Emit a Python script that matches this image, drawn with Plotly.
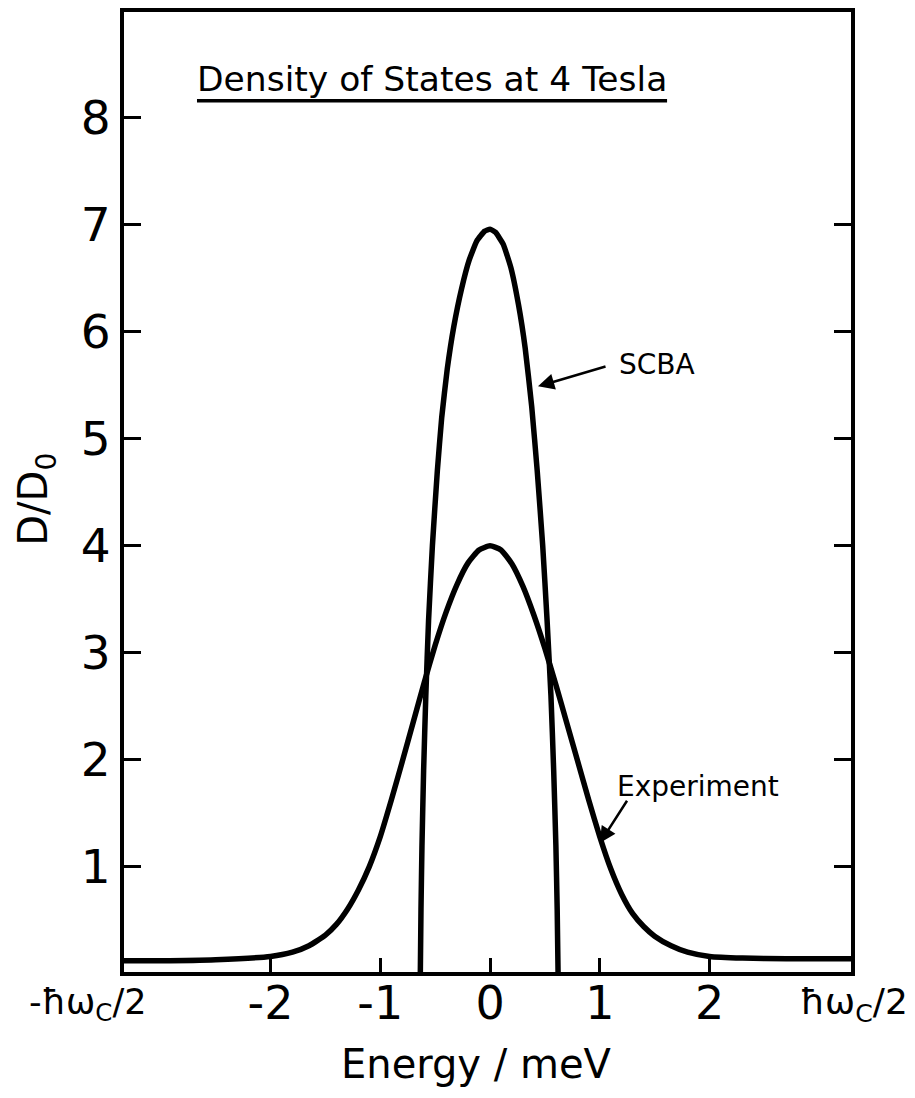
import plotly.graph_objects as go

# ---- data ----
exp_energy = [-3.335, -3.0, -2.5, -2.0, -1.8, -1.65, -1.5, -1.4, -1.3, -1.2, -1.1, -1.0, -0.9, -0.8,
              -0.7, -0.6, -0.5, -0.4, -0.3, -0.2, -0.1, 0.0,
              0.1, 0.2, 0.3, 0.4, 0.5, 0.6, 0.7, 0.8, 0.9, 1.0, 1.1, 1.2, 1.3, 1.4, 1.5,
              1.65, 1.8, 2.0, 2.3, 2.7, 3.289]
exp_dos = [0.12, 0.12, 0.13, 0.16, 0.2, 0.26, 0.36, 0.46, 0.6, 0.78, 1.0, 1.28, 1.62, 1.98,
           2.35, 2.72, 3.07, 3.38, 3.64, 3.84, 3.96, 4.0,
           3.96, 3.83, 3.62, 3.35, 3.04, 2.7, 2.34, 1.98, 1.62, 1.28, 0.98, 0.74, 0.56, 0.44, 0.35,
           0.26, 0.2, 0.16, 0.145, 0.14, 0.14]

scba_energy = [-0.635, -0.629, -0.62, -0.605, -0.585, -0.56, -0.525, -0.48, -0.44, -0.39, -0.33,
               -0.26, -0.19, -0.12, -0.05, 0.0, 0.05, 0.12, 0.19, 0.26, 0.32, 0.38, 0.43,
               0.48, 0.52, 0.555, 0.58, 0.60, 0.612, 0.62]
scba_dos = [0.0, 0.6, 1.2, 1.9, 2.6, 3.3, 4.0, 4.7, 5.2, 5.65, 6.05,
            6.4, 6.67, 6.85, 6.94, 6.96, 6.93, 6.82, 6.6, 6.25, 5.85, 5.3, 4.7,
            4.0, 3.3, 2.6, 1.9, 1.2, 0.6, 0.0]

x_tickvals = [-2, -1, 0, 1, 2]
x_ticktext = ["-2", "-1", "0", "1", "2"]
y_tickvals = [1, 2, 3, 4, 5, 6, 7, 8]
y_ticktext = ["1", "2", "3", "4", "5", "6", "7", "8"]
y_right_tickvals = [1, 2, 3, 4, 5, 6, 7]

FONT = "DejaVu Sans"
Y_RANGE = [0.015, 8.99]

fig = go.Figure()
fig.add_trace(go.Scatter(x=exp_energy, y=exp_dos, mode="lines", name="Experiment",
                         line=dict(color="black", width=5.5, shape="spline", smoothing=0.5),
                         showlegend=False))
# SCBA drawn against the right-hand axis, which has exactly the same range
fig.add_trace(go.Scatter(x=scba_energy, y=scba_dos, mode="lines", name="SCBA", yaxis="y2",
                         line=dict(color="black", width=5.5, shape="spline", smoothing=0.4),
                         showlegend=False))

fig.update_layout(
    width=907, height=1090,
    margin=dict(l=116, r=64, t=0, b=126),
    paper_bgcolor="white", plot_bgcolor="white",
    font=dict(family=FONT, color="black", size=40),
    xaxis=dict(range=[-3.335, 3.289], tickvals=x_tickvals, ticktext=x_ticktext,
               ticks="inside", ticklen=14, tickwidth=2.5, tickcolor="black",
               showline=True, linewidth=4, linecolor="black", mirror=True,
               showgrid=False, zeroline=False, tickfont=dict(size=46),
               ticklabelstandoff=-12),
    yaxis=dict(range=Y_RANGE, tickvals=y_tickvals, ticktext=y_ticktext,
               ticks="inside", ticklen=17, tickwidth=2.5, tickcolor="black",
               showline=True, linewidth=4, linecolor="black", mirror=True,
               showgrid=False, zeroline=False, tickfont=dict(size=47),
               ticklabelstandoff=0),
    yaxis2=dict(range=Y_RANGE, tickvals=y_right_tickvals, overlaying="y", side="right",
                ticks="inside", ticklen=17, tickwidth=2.5, tickcolor="black",
                showticklabels=False, showline=False, showgrid=False, zeroline=False),
)

# axis titles
fig.add_annotation(x=0.485, xref="paper", y=0, yref="paper", yshift=-92,
                   text="Energy / meV", showarrow=False, font=dict(size=40),
                   xanchor="center", yanchor="middle")
fig.add_annotation(x=0, xref="paper", y=0.492, yref="paper", xshift=-88,
                   text="D/D<sub>0</sub>", textangle=-90, showarrow=False, font=dict(size=40),
                   xanchor="center", yanchor="middle")

# end labels of the energy axis
fig.add_annotation(x=0, xref="paper", y=0, yref="paper", yshift=-32, xshift=-37,
                   text="-ħω<sub>C</sub>/2", showarrow=False, font=dict(size=35),
                   xanchor="center", yanchor="middle")
fig.add_annotation(x=1, xref="paper", y=0, yref="paper", yshift=-32, xshift=3,
                   text="ħω<sub>C</sub>/2", showarrow=False, font=dict(size=36),
                   xanchor="center", yanchor="middle")

# title with underline
fig.add_annotation(x=0.4237, xref="paper", y=0.9305, yref="paper",
                   text="Density of States at 4 Tesla", showarrow=False,
                   font=dict(size=34.5), xanchor="center", yanchor="middle")
fig.add_shape(type="line", xref="paper", yref="paper", x0=0.1004, x1=0.747,
              y0=0.9075, y1=0.9075, line=dict(color="black", width=3.5))

# curve labels with arrows
fig.add_annotation(x=0.437, y=5.49, ax=1.066, ay=5.68, xref="x", yref="y", axref="x", ayref="y",
                   text="", showarrow=True, arrowhead=2, arrowsize=1.3, arrowwidth=2.5,
                   arrowcolor="black")
fig.add_annotation(x=1.157, y=5.69, text="SCBA", showarrow=False, font=dict(size=28),
                   xanchor="left", yanchor="middle")
fig.add_annotation(x=1.0, y=1.22, ax=1.257, ay=1.63, xref="x", yref="y", axref="x", ayref="y",
                   text="", showarrow=True, arrowhead=2, arrowsize=1.3, arrowwidth=2.5,
                   arrowcolor="black")
fig.add_annotation(x=1.139, y=1.75, text="Experiment", showarrow=False, font=dict(size=28),
                   xanchor="left", yanchor="middle")

fig.write_html("out.html")
